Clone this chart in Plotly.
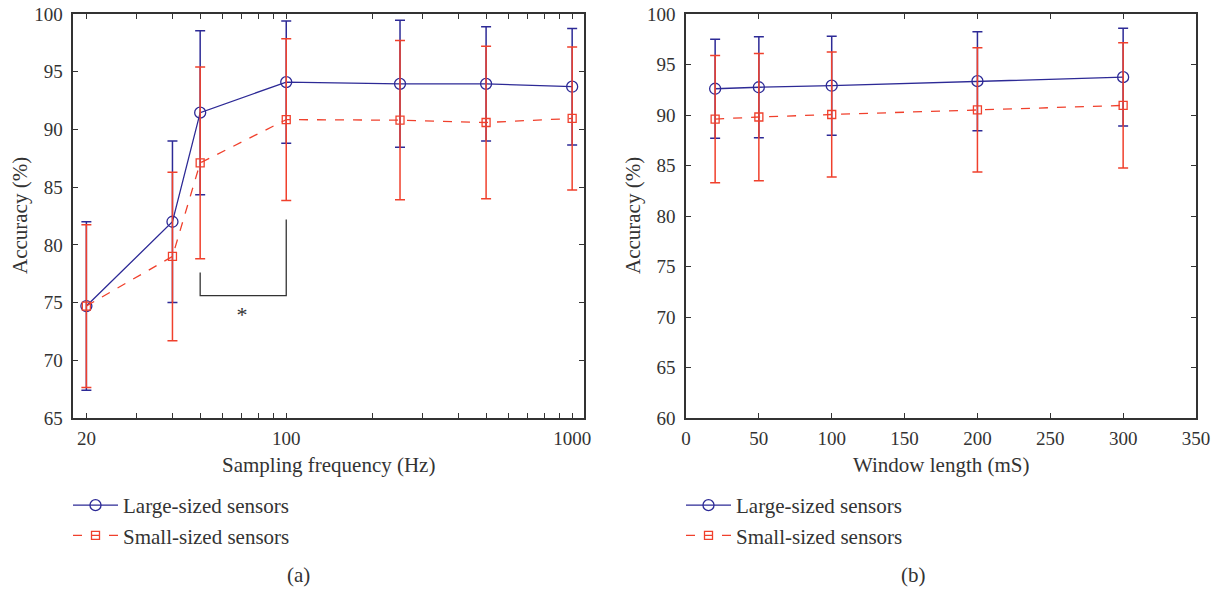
import numpy as np
import plotly.graph_objects as go

# ---------------- data ----------------
freq = [20, 40, 50, 100, 250, 500, 1000]
large_freq_mean = [74.7, 82.0, 91.45, 94.1, 93.95, 93.95, 93.7]
large_freq_err = [7.3, 7.0, 7.1, 5.3, 5.5, 4.95, 5.05]
small_freq_mean = [74.7, 79.0, 87.1, 90.85, 90.8, 90.6, 90.95]
small_freq_err = [7.05, 7.3, 8.3, 7.0, 6.9, 6.6, 6.2]

window = [20, 50, 100, 200, 300]
large_win_mean = [92.6, 92.75, 92.9, 93.35, 93.75]
large_win_err = [4.9, 5.0, 4.9, 4.9, 4.85]
small_win_mean = [89.6, 89.8, 90.05, 90.5, 90.95]
small_win_err = [6.3, 6.3, 6.2, 6.15, 6.2]

bracket_x = [50, 50, 100, 100]
bracket_y = [77.6, 75.6, 75.6, 82.2]
star_x = [70]
star_y = [73.8]

freq_tickvals = [20, 30, 40, 50, 60, 70, 80, 90, 100, 200, 300, 400, 500, 600, 700, 800, 900, 1000]
freq_ticktext = ["20", "", "", "", "", "", "", "", "100", "", "", "", "", "", "", "", "", "1000"]
series_names = ["Large-sized sensors", "Small-sized sensors"]

# ---------------- style ----------------
BLUE = "#2d2a96"
RED = "#f0402c"
AX = "#333333"
FONT = "Liberation Serif"
W, H = 1223, 591

fig = go.Figure()

def add_series(x, y, err, name, color, symbol, msize, dash, xa, ya, legend):
    fig.add_trace(go.Scatter(
        x=x, y=y, name=name, mode="lines+markers",
        line=dict(color=color, width=1.3, dash=dash),
        marker=dict(symbol=symbol, size=msize, color=color, line=dict(color=color, width=1.3)),
        error_y=dict(type="data", array=err, visible=True, color=color, thickness=1.5, width=5),
        xaxis=xa, yaxis=ya, legend=legend,
    ))

add_series(freq, large_freq_mean, large_freq_err, series_names[0], BLUE, "circle-open", 11, "solid", "x", "y", "legend")
add_series(freq, small_freq_mean, small_freq_err, series_names[1], RED, "square-open", 8, "dash", "x", "y", "legend")
add_series(window, large_win_mean, large_win_err, series_names[0], BLUE, "circle-open", 11, "solid", "x2", "y2", "legend2")
add_series(window, small_win_mean, small_win_err, series_names[1], RED, "square-open", 8, "dash", "x2", "y2", "legend2")

fig.add_trace(go.Scatter(x=bracket_x, y=bracket_y, mode="lines", line=dict(color=AX, width=1.3),
                         showlegend=False, hoverinfo="skip", xaxis="x", yaxis="y"))
fig.add_trace(go.Scatter(x=star_x, y=star_y, mode="text", text=["*"], textfont=dict(family=FONT, size=22, color=AX),
                         showlegend=False, hoverinfo="skip", xaxis="x", yaxis="y"))

def px_x(p):
    return p / W

def px_y(p):
    return (H - p) / H

axis_common = dict(showline=True, linecolor=AX, linewidth=1.5, mirror="ticks", ticks="inside",
                   ticklen=5, tickwidth=1.2, tickcolor=AX, showgrid=False, zeroline=False,
                   automargin=False, tickfont=dict(family=FONT, size=19, color=AX))

fig.update_layout(
    template="none",
    width=W, height=H, margin=dict(l=0, r=0, t=0, b=0, pad=0, autoexpand=False),
    paper_bgcolor="white", plot_bgcolor="white",
    font=dict(family=FONT, size=19, color=AX),
    xaxis=dict(domain=[px_x(73.3), px_x(584)], type="log", range=[np.log10(18), np.log10(1100)],
               tickmode="array", tickvals=freq_tickvals, ticktext=freq_ticktext, anchor="y",
               ticklabelstandoff=2, **axis_common),
    yaxis=dict(domain=[px_y(418), px_y(14)], range=[65, 100], dtick=5, anchor="x",
               ticklabelstandoff=5, **axis_common),
    xaxis2=dict(domain=[px_x(686), px_x(1196)], range=[0, 350], dtick=50, anchor="y2",
                ticklabelstandoff=2, **axis_common),
    yaxis2=dict(domain=[px_y(418), px_y(14)], range=[60, 100], dtick=5, anchor="x2",
                ticklabelstandoff=5, **axis_common),
    legend=dict(x=px_x(68), y=px_y(485), xanchor="left", yanchor="top", bgcolor="rgba(0,0,0,0)",
                font=dict(family=FONT, size=21, color=AX), itemwidth=45, tracegroupgap=0),
    legend2=dict(x=px_x(681), y=px_y(485), xanchor="left", yanchor="top", bgcolor="rgba(0,0,0,0)",
                 font=dict(family=FONT, size=21, color=AX), itemwidth=45, tracegroupgap=0),
)

def ann(text, x, y, angle=0, size=21):
    fig.add_annotation(text=text, x=px_x(x), y=px_y(y), xref="paper", yref="paper",
                       showarrow=False, textangle=angle, xanchor="center", yanchor="middle",
                       font=dict(family=FONT, size=size, color=AX))

ann("Accuracy (%)", 20, 216, -90)
ann("Accuracy (%)", 633, 216, -90)
ann("Sampling frequency (Hz)", 328, 465)
ann("Window length (mS)", 941, 465)
ann("(a)", 298, 575)
ann("(b)", 913, 575)

fig.write_html("out.html", config={"displayModeBar": False},
               post_script="document.body.style.margin='0';document.body.style.padding='0';")
